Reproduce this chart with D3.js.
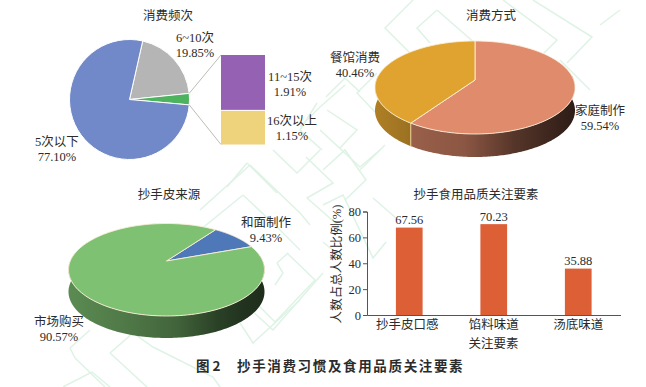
<!DOCTYPE html>
<html><head><meta charset="utf-8">
<script src="https://cdn.jsdelivr.net/npm/d3@7/dist/d3.min.js"></script>
<style>html,body{margin:0;background:#fff}svg{display:block}
text{font-family:"Liberation Serif","Noto Sans CJK SC",serif;fill:#2b2b2b;font-size:12.5px}</style>
</head><body><svg id="c" width="646" height="387"></svg>
<script>
const freqNames=["6~10次","其他","5次以下"];
const freqValues=[19.85,3.06,77.10];
const freqColors=["#b5b5b5","#4db35e","#7189c8"];
const subNames=["11~15次","16次以上"];
const subValues=[1.91,1.15];
const subColors=["#9562b3","#eed27c"];
const wayNames=["家庭制作","餐馆消费"];
const wayValues=[59.54,40.46];
const wayColors=["#e08b6c","#e0a330"];
const skinNames=["和面制作","市场购买"];
const skinValues=[9.43,90.57];
const skinColors=["#4f78b8","#7fc172"];
const barNames=["抄手皮口感","馅料味道","汤底味道"];
const barValues=[67.56,70.23,35.88];
const barTicks=[0,20,40,60,80];

const svg=d3.select("#c");
const defs=svg.append("defs");
function multi(x,y,lines,opt={}){
  const t=svg.append("text").attr("x",x).attr("y",y).attr("text-anchor",opt.anchor||"middle");
  lines.forEach((l,i)=>t.append("tspan").attr("x",x).attr("dy",i?(opt.lh||15):0).text(l));
  return t;
}
/* watermark */
const wm=svg.append("g").attr("fill","none").attr("stroke","#def3e5").attr("stroke-width",1.5);
[[[413,0],[385,28],[450,93]],[[437,10],[417,28],[430,43]],[[437,10],[477,45]],
 [[503,0],[557,40],[540,57]],[[533,0],[592,37],[567,63]],
 [[377,73],[357,93],[375,112]],[[327,110],[357,130],[340,148]],[[317,103],[300,130],[322,150]],[[320,107],[300,127]],
 [[326,97],[345,78],[360,92]],[[360,170],[385,145]],[[323,170],[345,150],[366,180],[345,200]],
 [[306,157],[333,183],[307,198],[340,227]],[[320,130],[360,167],[380,150]],
 [[250,165],[200,210]],[[250,165],[300,213],[310,225]],[[243,195],[200,230]],[[243,195],[277,227],[300,250]],
 [[273,150],[297,173],[320,150]],[[247,163],[227,187]],[[247,163],[277,193]],
 [[323,205],[343,195],[373,258],[386,242]],[[373,198],[396,218]],[[323,242],[335,252]],
 [[287,253],[315,280],[275,322],[243,290]],[[323,273],[273,330],[240,300]],[[277,263],[288,253]],[[277,263],[283,273],[275,285]],
 [[240,323],[253,343],[300,300]],[[70,348],[90,330]],[[75,358],[70,348]],[[75,358],[105,387]],
 [[110,353],[133,333],[153,347],[213,377],[220,387]],[[110,353],[147,387]],[[92,372],[63,387]],[[92,372],[110,387]],
 [[320,107],[345,85]],[[560,60],[590,90]],[[600,25],[620,10]]]
 .forEach(p=>wm.append("path").attr("d",d3.line()(p)));

/* flat pie */
(function(){
  const cx=129.5,cy=99.5,r=60;
  const arcs=d3.pie().sort(null).value(d=>d).startAngle(12.7*Math.PI/180).endAngle((360+12.7)*Math.PI/180)(freqValues);
  const arc=d3.arc().innerRadius(0).outerRadius(r);
  svg.append("g").attr("transform",`translate(${cx},${cy})`).selectAll("path").data(arcs).join("path")
    .attr("d",arc).attr("fill",(d,i)=>freqColors[i]).attr("stroke","#fff").attr("stroke-width",1);
  const sx=221,sw=44,sy=d3.scaleLinear().domain([0,d3.sum(subValues)]).range([55,144.5]);
  let acc=0;
  subValues.forEach((v,i)=>{
    svg.append("rect").attr("x",sx).attr("width",sw).attr("y",sy(acc)).attr("height",sy(acc+v)-sy(acc)-(i==0?1:0)).attr("fill",subColors[i]);
    acc+=v;
  });
  const g=arcs[1];
  const pt=a=>[cx+r*Math.sin(a),cy-r*Math.cos(a)];
  svg.append("path").attr("d",d3.line()([pt(g.startAngle),[sx,sy(0)]])).attr("stroke","#bdbdb3").attr("fill","none");
  svg.append("path").attr("d",d3.line()([pt(g.endAngle),[sx,sy(d3.sum(subValues))]])).attr("stroke","#bdbdb3").attr("fill","none");
})();
/* perspective pies */
function pie3d(o){
  const B=o.rx*Math.sqrt(1-o.p*o.p);
  const proj=a=>{const x=Math.sin(a),y=-Math.cos(a),w=1-o.p*y;return [o.cx+B*x/w,o.cy+o.A*y/w];};
  const arcs=d3.pie().sort(null).value(d=>d).startAngle(o.start*Math.PI/180).endAngle((360+o.start)*Math.PI/180)(o.values);
  const line=d3.line();
  const edge=(a0,a1,n=160)=>d3.range(n+1).map(i=>proj(a0+(a1-a0)*i/n));
  const aL=Math.PI/2, aR=Math.PI*1.5;
  const seg=[];
  arcs.forEach((d,i)=>{
    for(let k=-1;k<=1;k++){
      const lo=Math.max(d.startAngle+k*2*Math.PI,aL*0.93),hi=Math.min(d.endAngle+k*2*Math.PI,aR*1.023);
      if(hi>lo)seg.push({lo,hi,i});
    }
  });
  seg.forEach(s=>{
    const top=edge(s.lo,s.hi), bot=top.map(p=>[p[0],p[1]+o.depth]).reverse();
    const id=o.id+"g"+s.i;
    const g=defs.append("linearGradient").attr("id",id).attr("gradientUnits","userSpaceOnUse")
      .attr("x1",o.cx-o.rx).attr("x2",o.cx+o.rx).attr("y1",0).attr("y2",0);
    const c=d3.rgb(o.colors[s.i]);
    o.stops.forEach(st=>g.append("stop").attr("offset",st[0]).attr("stop-color",d3.rgb(c.r*st[1],c.g*st[1],c.b*st[1])));
    svg.append("path").attr("d",line(top.concat(bot))+"Z").attr("fill",`url(#${id})`);
  });
  arcs.forEach((d,i)=>{
    const pts=[[o.cx,o.cy]].concat(edge(d.startAngle,d.endAngle));
    svg.append("path").attr("d",line(pts)+"Z").attr("fill",o.colors[i]).attr("stroke","#fbeed8").attr("stroke-width",.9);
  });
  if(o.seam) arcs.forEach(d=>{
    const a=d.endAngle%(2*Math.PI);
    if(a>aL&&a<aR){const p=proj(d.endAngle);
      svg.append("path").attr("d",line([p,[p[0],p[1]+o.depth]])).attr("stroke","#f0d9a0").attr("stroke-width",.9);}
  });
}
pie3d({id:"w",cx:475,cy:80,rx:100,A:45.3,p:.161,depth:23,start:0,values:wayValues,colors:wayColors,
  stops:[[0,.78],[.2,.68],[.45,.62],[.7,.38],[.9,.26],[1,.2]],seam:true});
pie3d({id:"s",cx:166.5,cy:261,rx:98,A:44.6,p:.189,depth:22,start:36,values:skinValues,colors:skinColors,
  stops:[[0,.72],[.3,.62],[.55,.52],[.75,.34],[.9,.26],[1,.24]],seam:false});

/* bars */
(function(){
  const x=d3.scaleBand().domain(barNames).range([367,620.5]).paddingInner(.684).paddingOuter(.342);
  const y=d3.scaleLinear().domain([0,80]).range([315,211.5]);
  const g=svg.append("g");
  g.selectAll("rect").data(barValues).join("rect").attr("x",(d,i)=>x(barNames[i])).attr("width",x.bandwidth())
    .attr("y",d=>y(d)).attr("height",d=>y(0)-y(d)).attr("fill","#dd5f36");
  g.selectAll("text.v").data(barValues).join("text").attr("class","v").attr("text-anchor","middle")
    .attr("x",(d,i)=>x(barNames[i])+x.bandwidth()/2).attr("y",d=>y(d)-3.5).style("font-size","12.5px").text(d=>d.toFixed(2));
  const ax=g.append("g").attr("transform","translate(367,0)").call(d3.axisLeft(y).tickValues(barTicks).tickSize(4).tickPadding(2));
  ax.selectAll("text").style("font-size","12.5px").style("font-family",'"Liberation Serif"');
  const bx=g.append("g").attr("transform","translate(0,315)").call(d3.axisBottom(x).tickSize(0).tickPadding(5));
  bx.selectAll("text").style("font-size","12.5px").style("font-family",'"Liberation Serif","Noto Sans CJK SC"');
  bx.selectAll(".tick").filter((d,i)=>i==0).select("text").attr("dx",-2);
  [ax,bx].forEach(a=>a.selectAll("path,line").attr("stroke","#555").attr("stroke-width",1));
  svg.append("text").attr("transform","translate(340.5,264) rotate(-90)").attr("text-anchor","middle").text("人数占总人数比例(%)");
  svg.append("text").attr("x",493.5).attr("y",348).attr("text-anchor","middle").text("关注要素");
})();

/* titles & labels */
[["消费频次",168,20],["消费方式",491,20],["抄手皮来源",169,199],["抄手食用品质关注要素",476,199]].forEach(t=>multi(t[1],t[2],[t[0]]));
multi(195,42,[freqNames[0],freqValues[0].toFixed(2)+"%"]);
multi(290,81,[subNames[0],subValues[0].toFixed(2)+"%"]);
multi(292,125,[subNames[1],subValues[1].toFixed(2)+"%"]);
multi(57,146,[freqNames[2],freqValues[2].toFixed(2)+"%"]);
multi(355,62,[wayNames[1],wayValues[1].toFixed(2)+"%"]);
multi(600,115,[wayNames[0],wayValues[0].toFixed(2)+"%"]);
multi(266,227,[skinNames[0],skinValues[0].toFixed(2)+"%"]);
multi(59,326,[skinNames[1],skinValues[1].toFixed(2)+"%"]);
svg.append("text").attr("x",196).attr("y",371).style("font-family",'"Noto Sans CJK SC"').style("font-weight",700).style("font-size","13.5px").style("letter-spacing","3px").text("图2");
svg.append("text").attr("x",237).attr("y",371).style("font-family",'"Noto Sans CJK SC"').style("font-weight",700).style("font-size","13.5px").style("letter-spacing","1.65px").text("抄手消费习惯及食用品质关注要素");
</script></body></html>
